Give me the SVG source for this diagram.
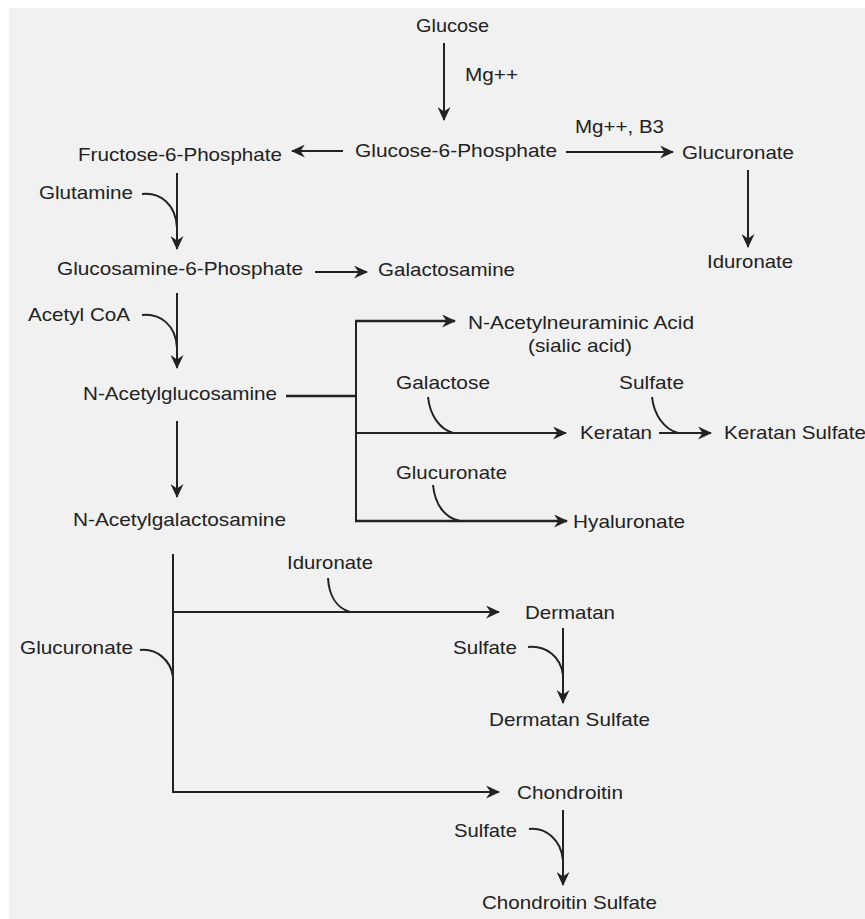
<svg xmlns="http://www.w3.org/2000/svg" width="865" height="919" viewBox="0 0 865 919">
<style>
text{font-family:"Liberation Sans",Arial,Helvetica,sans-serif;font-size:19px;fill:#222}
.ln{fill:none;stroke:#222;stroke-width:2}
.th{stroke-width:2.6}
.cv{fill:none;stroke:#222;stroke-width:2}
</style>
<defs>
<marker id="ah" viewBox="0 0 14 13" refX="13" refY="6.5" markerWidth="14" markerHeight="13" markerUnits="userSpaceOnUse" orient="auto">
<path d="M0,0 L14,6.5 L0,13 L4.5,6.5 z" fill="#222"/>
</marker>
</defs>
<rect x="0" y="0" width="865" height="919" fill="#ffffff"/>
<rect x="9" y="8" width="856" height="911" fill="#f0f1f0"/>

<g id="connectors">
<line class="ln" x1="444" y1="43" x2="444" y2="120" marker-end="url(#ah)"/>
<text x="465" y="81" textLength="53" lengthAdjust="spacingAndGlyphs">Mg++</text>
<line class="ln" x1="343" y1="151" x2="292" y2="151" marker-end="url(#ah)"/>
<line class="ln" x1="566" y1="152" x2="673" y2="152" marker-end="url(#ah)"/>
<text x="575" y="133" textLength="89" lengthAdjust="spacingAndGlyphs">Mg++, B3</text>
<line class="ln" x1="748" y1="170" x2="748" y2="247" marker-end="url(#ah)"/>
<line class="ln" x1="177" y1="173" x2="177" y2="249" marker-end="url(#ah)"/>
<path class="cv" d="M142,194 C160,192 176,204 177,228"/>
<line class="ln" x1="315" y1="272" x2="367" y2="272" marker-end="url(#ah)"/>
<line class="ln" x1="177" y1="293" x2="177" y2="368" marker-end="url(#ah)"/>
<path class="cv" d="M142,315 C160,313 176,325 177,348"/>
<line class="ln" x1="177" y1="421" x2="177" y2="497" marker-end="url(#ah)"/>
<path class="ln th" d="M286,396 H356"/>
<path class="ln" d="M356,320 V522"/>
<path class="ln th" d="M355,321 H455" marker-end="url(#ah)"/>
<path class="ln" d="M356,433 H566" marker-end="url(#ah)"/>
<path class="cv" d="M428,397 C430,416 440,429 453,433"/>
<path class="ln th" d="M355,521 H567" marker-end="url(#ah)"/>
<path class="cv" d="M433,485 C435,505 445,518 460,521"/>
<path class="ln" d="M659,433 H711" marker-end="url(#ah)"/>
<path class="cv" d="M652,397 C654,415 664,429 678,433"/>
<path class="ln" d="M173,554 V792 H499" marker-end="url(#ah)"/>
<path class="ln" d="M173,612 H499" marker-end="url(#ah)"/>
<path class="cv" d="M328,578 C329,596 337,608 350,612"/>
<path class="cv" d="M140,650 C156,648 171,660 173,677"/>
<line class="ln" x1="563" y1="628" x2="563" y2="703" marker-end="url(#ah)"/>
<path class="cv" d="M528,647 C546,645 561,657 563,675"/>
<line class="ln" x1="563" y1="810" x2="563" y2="885" marker-end="url(#ah)"/>
<path class="cv" d="M529,829 C546,827 561,840 563,860"/>
</g>

<g id="glucose"><text x="416" y="32" textLength="73" lengthAdjust="spacingAndGlyphs">Glucose</text></g>
<g id="glucose-6-phosphate"><text x="355" y="157" textLength="202" lengthAdjust="spacingAndGlyphs">Glucose-6-Phosphate</text></g>
<g id="fructose-6-phosphate"><text x="78" y="161" textLength="204" lengthAdjust="spacingAndGlyphs">Fructose-6-Phosphate</text></g>
<g id="glucuronate-top"><text x="682" y="159" textLength="112" lengthAdjust="spacingAndGlyphs">Glucuronate</text></g>
<g id="iduronate-top"><text x="707" y="268" textLength="86" lengthAdjust="spacingAndGlyphs">Iduronate</text></g>
<g id="glutamine"><text x="39" y="199" textLength="94" lengthAdjust="spacingAndGlyphs">Glutamine</text></g>
<g id="glucosamine-6-phosphate"><text x="57" y="275" textLength="246" lengthAdjust="spacingAndGlyphs">Glucosamine-6-Phosphate</text></g>
<g id="galactosamine"><text x="378" y="276" textLength="137" lengthAdjust="spacingAndGlyphs">Galactosamine</text></g>
<g id="acetyl-coa"><text x="28" y="321" textLength="102" lengthAdjust="spacingAndGlyphs">Acetyl CoA</text></g>
<g id="n-acetylneuraminic-acid">
<text x="468" y="329" textLength="226" lengthAdjust="spacingAndGlyphs">N-Acetylneuraminic Acid</text>
<text x="528" y="352" textLength="104" lengthAdjust="spacingAndGlyphs">(sialic acid)</text>
</g>
<g id="n-acetylglucosamine"><text x="83" y="400" textLength="194" lengthAdjust="spacingAndGlyphs">N-Acetylglucosamine</text></g>
<g id="galactose"><text x="396" y="389" textLength="94" lengthAdjust="spacingAndGlyphs">Galactose</text></g>
<g id="sulfate-keratan"><text x="619" y="389" textLength="65" lengthAdjust="spacingAndGlyphs">Sulfate</text></g>
<g id="keratan"><text x="580" y="439" textLength="72" lengthAdjust="spacingAndGlyphs">Keratan</text></g>
<g id="keratan-sulfate"><text x="724" y="439" textLength="142" lengthAdjust="spacingAndGlyphs">Keratan Sulfate</text></g>
<g id="glucuronate-mid"><text x="396" y="479" textLength="111" lengthAdjust="spacingAndGlyphs">Glucuronate</text></g>
<g id="hyaluronate"><text x="573" y="528" textLength="112" lengthAdjust="spacingAndGlyphs">Hyaluronate</text></g>
<g id="n-acetylgalactosamine"><text x="73" y="526" textLength="213" lengthAdjust="spacingAndGlyphs">N-Acetylgalactosamine</text></g>
<g id="iduronate-bottom"><text x="287" y="569" textLength="86" lengthAdjust="spacingAndGlyphs">Iduronate</text></g>
<g id="dermatan"><text x="525" y="619" textLength="90" lengthAdjust="spacingAndGlyphs">Dermatan</text></g>
<g id="glucuronate-left"><text x="20" y="654" textLength="113" lengthAdjust="spacingAndGlyphs">Glucuronate</text></g>
<g id="sulfate-dermatan"><text x="453" y="654" textLength="64" lengthAdjust="spacingAndGlyphs">Sulfate</text></g>
<g id="dermatan-sulfate"><text x="489" y="726" textLength="161" lengthAdjust="spacingAndGlyphs">Dermatan Sulfate</text></g>
<g id="chondroitin"><text x="517" y="799" textLength="106" lengthAdjust="spacingAndGlyphs">Chondroitin</text></g>
<g id="sulfate-chondroitin"><text x="454" y="837" textLength="63" lengthAdjust="spacingAndGlyphs">Sulfate</text></g>
<g id="chondroitin-sulfate"><text x="482" y="909" textLength="175" lengthAdjust="spacingAndGlyphs">Chondroitin Sulfate</text></g>
</svg>
